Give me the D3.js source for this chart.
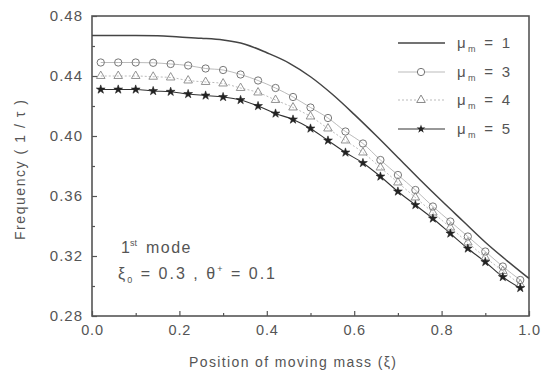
<!DOCTYPE html>
<html>
<head>
<meta charset="utf-8">
<script src="https://cdn.jsdelivr.net/npm/d3@7"></script>
<style>
  body { margin: 0; background: #fff; }
  text { font-family: "Liberation Sans", Arial, sans-serif; fill: #555; }
</style>
</head>
<body>
<svg id="chart" width="553" height="375"></svg>
<script>
// mu_m = 1 : solid curve
const xLine = [0, 0.05, 0.1, 0.15, 0.2, 0.25, 0.3, 0.35, 0.4, 0.45, 0.5, 0.55, 0.6, 0.65, 0.7, 0.75, 0.8, 0.85, 0.9, 0.95, 1.0]
const mu1 = [0.467, 0.467, 0.467, 0.4668, 0.466, 0.4652, 0.464, 0.4612, 0.4555, 0.4488, 0.4395, 0.4278, 0.4144, 0.4003, 0.3857, 0.371, 0.3568, 0.343, 0.3292, 0.3168, 0.305]

// marker series
const xMark = [0.02, 0.06, 0.10, 0.14, 0.18, 0.22, 0.26, 0.30, 0.34, 0.38, 0.42, 0.46, 0.50, 0.54, 0.58, 0.62, 0.66, 0.70, 0.74, 0.78, 0.82, 0.86, 0.90, 0.94, 0.98]
const mu3 = [0.449, 0.449, 0.449, 0.4488, 0.448, 0.447, 0.445, 0.444, 0.441, 0.437, 0.432, 0.426, 0.419, 0.412, 0.403, 0.395, 0.384, 0.374, 0.364, 0.353, 0.343, 0.333, 0.323, 0.313, 0.304]
const mu4 = [0.440, 0.440, 0.440, 0.4395, 0.439, 0.437, 0.436, 0.435, 0.432, 0.429, 0.424, 0.419, 0.413, 0.405, 0.397, 0.389, 0.379, 0.369, 0.359, 0.349, 0.339, 0.329, 0.319, 0.310, 0.301]
const mu5 = [0.431, 0.431, 0.431, 0.430, 0.4295, 0.428, 0.427, 0.426, 0.424, 0.420, 0.415, 0.411, 0.405, 0.397, 0.389, 0.382, 0.373, 0.363, 0.354, 0.345, 0.335, 0.325, 0.316, 0.306, 0.2987]

const legendVals = ['1', '3', '4', '5']
const xTicks = [0, 0.2, 0.4, 0.6, 0.8, 1.0]
const yTicks = [0.28, 0.32, 0.36, 0.40, 0.44, 0.48]

const L = 92, R = 529, T = 16, B = 316
const svg = d3.select('#chart')

const x = d3.scaleLinear().domain([0, 1]).range([L, R])
const y = d3.scaleLinear().domain([0.28, 0.48]).range([B, T])

// inward ticks, minor then major
svg.append('g').attr('transform', `translate(0,${B})`)
  .call(d3.axisBottom(x).tickValues(d3.range(0.1, 1, 0.2)).tickSize(-3).tickFormat(''))
const xMaj = svg.append('g').attr('transform', `translate(0,${B})`)
  .call(d3.axisBottom(x).tickValues(xTicks).tickSize(-5).tickPadding(9).tickFormat(d3.format('.1f')))
svg.append('g').attr('transform', `translate(${L},0)`)
  .call(d3.axisLeft(y).tickValues(d3.range(0.30, 0.48, 0.04)).tickSize(-3).tickFormat(''))
const yMaj = svg.append('g').attr('transform', `translate(${L},0)`)
  .call(d3.axisLeft(y).tickValues(yTicks).tickSize(-5).tickPadding(9).tickFormat(d3.format('.2f')))

svg.selectAll('.domain').remove()
svg.selectAll('.tick line').attr('stroke', '#555').attr('stroke-width', 1.2)
xMaj.selectAll('text').attr('font-size', 14.5).attr('letter-spacing', 0.8).attr('fill', '#666')
yMaj.selectAll('text').attr('font-size', 15).attr('letter-spacing', 1).attr('fill', '#666')

svg.append('rect')
  .attr('x', L).attr('y', T).attr('width', R - L).attr('height', B - T)
  .attr('fill', 'none').attr('stroke', '#555').attr('stroke-width', 1.6)

const line = d3.line().curve(d3.curveMonotoneX)

svg.append('path')
  .attr('d', line(xLine.map((v, i) => [x(v), y(mu1[i])])))
  .attr('fill', 'none').attr('stroke', '#444').attr('stroke-width', 1.5)

svg.append('path')
  .attr('d', line(xMark.map((v, i) => [x(v), y(mu3[i])])))
  .attr('fill', 'none').attr('stroke', '#aaa').attr('stroke-width', 0.8)
svg.append('path')
  .attr('d', line(xMark.map((v, i) => [x(v), y(mu4[i])])))
  .attr('fill', 'none').attr('stroke', '#aaa').attr('stroke-width', 0.8).attr('stroke-dasharray', '2,2')
svg.append('path')
  .attr('d', line(xMark.map((v, i) => [x(v), y(mu5[i])])))
  .attr('fill', 'none').attr('stroke', '#333').attr('stroke-width', 1.1)

const circ = d3.symbol().type(d3.symbolCircle).size(42)
const tri = d3.symbol().type(d3.symbolTriangle).size(32)
const star = d3.symbol().type(d3.symbolStar).size(24)

svg.append('g').selectAll('path').data(xMark).join('path')
  .attr('d', circ).attr('transform', (d, i) => `translate(${x(d)},${y(mu3[i])})`)
  .attr('fill', 'none').attr('stroke', '#777').attr('stroke-width', 1)
svg.append('g').selectAll('path').data(xMark).join('path')
  .attr('d', tri).attr('transform', (d, i) => `translate(${x(d)},${y(mu4[i])})`)
  .attr('fill', 'none').attr('stroke', '#888').attr('stroke-width', 0.9)
svg.append('g').selectAll('path').data(xMark).join('path')
  .attr('d', star).attr('transform', (d, i) => `translate(${x(d)},${y(mu5[i])})`)
  .attr('fill', '#222').attr('stroke', '#222').attr('stroke-width', 0.6)

// legend
const legY = [43, 72, 100, 129]
const leg = svg.append('g')
legendVals.forEach((v, i) => {
  const g = leg.append('g').attr('transform', `translate(0,${legY[i]})`)
  if (i === 0) g.append('line').attr('x1', 398).attr('x2', 445).attr('stroke', '#444').attr('stroke-width', 1.5)
  if (i === 1) {
    g.append('line').attr('x1', 398).attr('x2', 445).attr('stroke', '#aaa').attr('stroke-width', 0.8)
    g.append('path').attr('d', circ).attr('transform', 'translate(421,0)').attr('fill', '#fff').attr('stroke', '#777')
  }
  if (i === 2) {
    g.append('line').attr('x1', 398).attr('x2', 445).attr('stroke', '#aaa').attr('stroke-width', 0.8).attr('stroke-dasharray', '2,2')
    g.append('path').attr('d', tri).attr('transform', 'translate(421,0)').attr('fill', '#fff').attr('stroke', '#888')
  }
  if (i === 3) {
    g.append('line').attr('x1', 398).attr('x2', 445).attr('stroke', '#333').attr('stroke-width', 1.1)
    g.append('path').attr('d', star).attr('transform', 'translate(421,0)').attr('fill', '#222')
  }
  const t = g.append('text').attr('x', 457).attr('y', 5).attr('font-size', 15)
    .attr('textLength', 53).attr('lengthAdjust', 'spacing')
  t.append('tspan').text('μ')
  t.append('tspan').attr('font-size', 9).attr('dy', 4).text('m')
  t.append('tspan').attr('dy', -4).text(' = ' + v)
})

// annotation
const a1 = svg.append('text').attr('x', 121).attr('y', 253).attr('font-size', 16)
a1.append('tspan').text('1')
a1.append('tspan').attr('font-size', 9).attr('dy', -7).text('st')
a1.append('tspan').attr('dy', 7).attr('dx', 9).attr('letter-spacing', 1.5).text('mode')
const a2 = svg.append('text').attr('x', 118).attr('y', 279).attr('font-size', 16)
  .attr('textLength', 157).attr('lengthAdjust', 'spacing')
a2.append('tspan').text('ξ')
a2.append('tspan').attr('font-size', 9).attr('dy', 4).text('0')
a2.append('tspan').attr('dy', -4).text(' = 0.3 ,  θ')
a2.append('tspan').attr('font-size', 9).attr('dy', -7).text('+')
a2.append('tspan').attr('dy', 7).text(' = 0.1')

// axis titles
svg.append('text').attr('x', 189).attr('y', 367).attr('font-size', 14)
  .attr('textLength', 207).attr('lengthAdjust', 'spacing')
  .text('Position of moving mass (ξ)')
svg.append('text').attr('transform', 'translate(25,170) rotate(-90)')
  .attr('text-anchor', 'middle').attr('font-size', 14)
  .attr('textLength', 140).attr('lengthAdjust', 'spacing')
  .text('Frequency ( 1 / τ )')
</script>
</body>
</html>
